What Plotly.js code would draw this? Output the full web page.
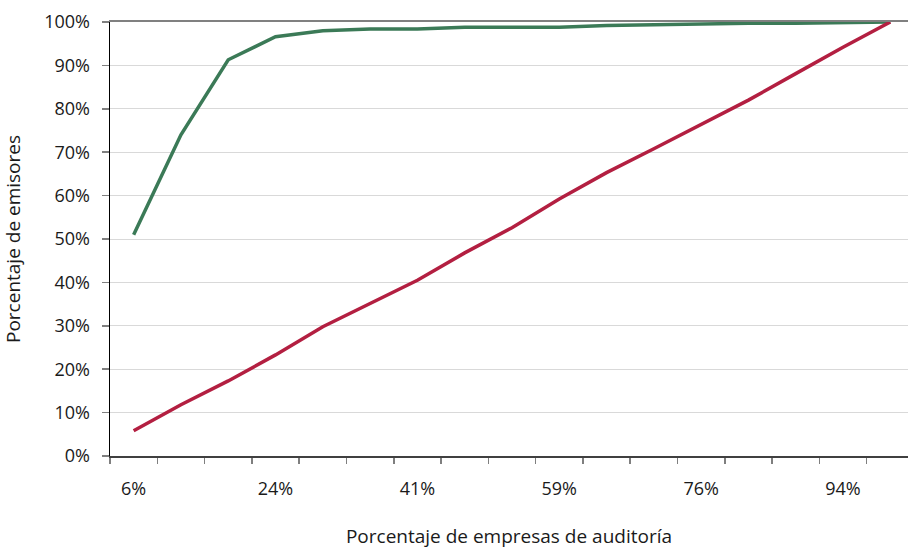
<!DOCTYPE html>
<html>
<head>
<meta charset="utf-8">
<script src="https://cdn.plot.ly/plotly-3.0.1.min.js"></script>
<style>html,body{margin:0;padding:0;background:#fff;}#chart{width:908px;height:549px;}</style>
</head>
<body>
<div id="chart"></div>
<script>
// Porcentaje de empresas de auditoría (categories)
const categories = ['6%','12%','18%','24%','29%','35%','41%','47%','53%','59%','65%','71%','76%','82%','88%','94%','100%'];
// Labelled ticks on the x axis
const labeledTicks = ['6%','24%','41%','59%','76%','94%'];
// Series values (fraction of emisores)
const seriesGreen = [0.510, 0.740, 0.913, 0.966, 0.980, 0.984, 0.984, 0.988, 0.988, 0.988, 0.992, 0.994, 0.996, 0.997, 0.997, 0.999, 1.000];
const seriesRed   = [0.058, 0.118, 0.173, 0.233, 0.298, 0.352, 0.405, 0.468, 0.526, 0.592, 0.653, 0.708, 0.764, 0.820, 0.881, 0.942, 1.000];

const tickText = categories.map(c => labeledTicks.includes(c) ? c : '');
const tickFont = {family: 'Open Sans, Noto Sans, sans-serif', size: 18, color: '#1a1a1a'};
const titleFont = {family: 'Open Sans, Noto Sans, sans-serif', size: 19, color: '#1a1a1a'};

const traces = [
  {x: categories, y: seriesGreen, type: 'scatter', mode: 'lines', name: 'green',
   line: {color: '#3b7a57', width: 3.5}, hoverinfo: 'skip'},
  {x: categories, y: seriesRed, type: 'scatter', mode: 'lines', name: 'red',
   line: {color: '#b31f41', width: 3.5}, hoverinfo: 'skip'}
];

const layout = {
  width: 908, height: 549,
  margin: {l: 110, r: 0, t: 22, b: 93, pad: 0},
  paper_bgcolor: '#ffffff', plot_bgcolor: '#ffffff',
  showlegend: false,
  font: tickFont,
  xaxis: {
    type: 'category',
    range: [-0.5, 16.374],
    tickmode: 'array', tickvals: categories, ticktext: tickText,
    tickson: 'boundaries',
    ticks: 'outside', ticklen: 6, tickcolor: '#7f7f7f', tickwidth: 1.5,
    showline: true, linecolor: '#404040', linewidth: 2,
    showgrid: false, zeroline: false,
    ticklabelstandoff: 15,
    tickfont: tickFont,
    title: {text: 'Porcentaje de empresas de auditoría', font: titleFont, standoff: 34}
  },
  xaxis2: {
    overlaying: 'x', side: 'top', matches: 'x',
    showline: true, linecolor: '#808080', linewidth: 2.5,
    showticklabels: false, ticks: '', showgrid: false, zeroline: false
  },
  yaxis: {
    range: [0, 1],
    tickmode: 'linear', tick0: 0, dtick: 0.1,
    tickformat: '.0%',
    ticks: 'outside', ticklen: 7, tickcolor: '#7f7f7f', tickwidth: 1.5,
    showline: true, linecolor: '#000000', linewidth: 1.5,
    showgrid: true, gridcolor: '#d9d9d9', gridwidth: 1,
    zeroline: false,
    ticklabelstandoff: 8,
    tickfont: tickFont,
    title: {text: 'Porcentaje de emisores', font: titleFont, standoff: 18}
  }
};

// invisible trace to anchor the top axis
traces.push({x: categories, y: seriesRed, xaxis: 'x2', type: 'scatter', mode: 'lines',
  line: {width: 0}, opacity: 0, hoverinfo: 'skip', showlegend: false});

Plotly.newPlot('chart', traces, layout, {displayModeBar: false, staticPlot: true});
</script>
</body>
</html>
